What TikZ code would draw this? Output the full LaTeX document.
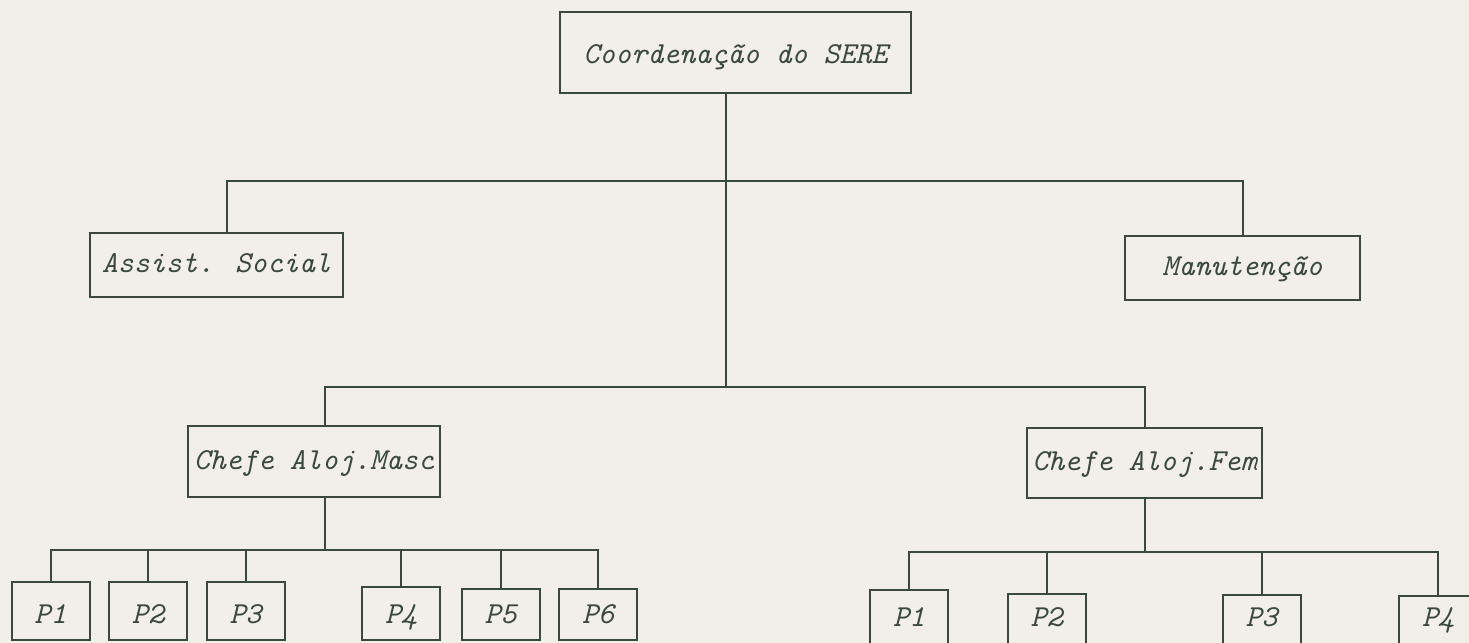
\documentclass[tikz,border=0pt]{standalone}
\definecolor{paper}{RGB}{241,239,231}
\definecolor{ink}{RGB}{58,72,62}
\begin{document}
\begin{tikzpicture}[x=0.5pt,y=-0.5pt,
  box/.style={draw=ink, line width=1pt, inner sep=0pt, text=ink,
    font=\fontsize{15.24pt}{18pt}\selectfont\ttfamily\itshape, text depth=0pt},
  pbox/.style={box, minimum width=39pt, minimum height=29pt},
  wire/.style={draw=ink, line width=1pt}]
\fill[paper] (0,0) rectangle (1469,643);
\useasboundingbox (0,0) rectangle (1469,643);

% boxes
\node[box, minimum width=175.5pt, minimum height=40.5pt, text height=10.5pt] (top) at (735.5,52.5) {Coordenação do SERE};
\node[box, minimum width=126.5pt, minimum height=32pt, text height=7pt] (assist) at (216.5,265) {Assist. Social};
\node[box, minimum width=117.5pt, minimum height=32pt, text height=7pt] (manut) at (1242.5,268) {Manutenção};
\node[box, minimum width=126pt, minimum height=35.5pt, text height=7.5pt] (masc) at (314,461.5) {Chefe Aloj.Masc};
\node[box, minimum width=117.5pt, minimum height=35pt, text height=7pt] (fem) at (1144.5,463) {Chefe Aloj.Fem};

\node[pbox, text height=12pt] (p1) at (50.5,611) {P1};
\node[pbox, text height=12pt] (p2) at (148,611) {P2};
\node[pbox, text height=12pt] (p3) at (245.5,611) {P3};
\node[pbox, minimum height=26.5pt, text height=9.5pt] (p4) at (401,613.5) {P4};
\node[pbox, minimum height=25.5pt, text height=8.5pt] (p5) at (500.5,614.5) {P5};
\node[pbox, minimum height=25.5pt, text height=8.5pt] (p6) at (598,614.5) {P6};

\node[pbox, text height=7pt] (q1) at (909,619) {P1};
\node[pbox, text height=3pt] (q2) at (1046.5,623) {P2};
\node[pbox, text height=2pt] (q3) at (1261.5,624) {P3};
\node[pbox, text height=1pt] (q4) at (1438,625) {P4};

% junctions
\coordinate (jLow) at (726,387);
\coordinate (uL) at (227,181);
\coordinate (uR) at (1243,181);
\coordinate (lL) at (325,387);
\coordinate (lR) at (1144.5,387);
\coordinate (mJ) at (325,550);
\coordinate (fJ) at (1144.5,552);

% connectors
\draw[wire] (top.south -| jLow) -- (jLow);
\draw[wire] (uL |- assist.north) -- (uL) -- (uR) -- (uR |- manut.north);
\draw[wire] (lL |- masc.north) -- (lL) -- (lR) -- (lR |- fem.north);
\draw[wire] (masc.south -| mJ) -- (mJ);
\draw[wire] (p1.north) -- (p1.north |- mJ) -- (p6.north |- mJ) -- (p6.north);
\foreach \p in {p2,p3,p4,p5} \draw[wire] (\p.north) -- (\p.north |- mJ);
\draw[wire] (fem.south) -- (fJ);
\draw[wire] (q1.north) -- (q1.north |- fJ) -- (q4.north |- fJ) -- (q4.north);
\foreach \q in {q2,q3} \draw[wire] (\q.north) -- (\q.north |- fJ);
\end{tikzpicture}
\end{document}
